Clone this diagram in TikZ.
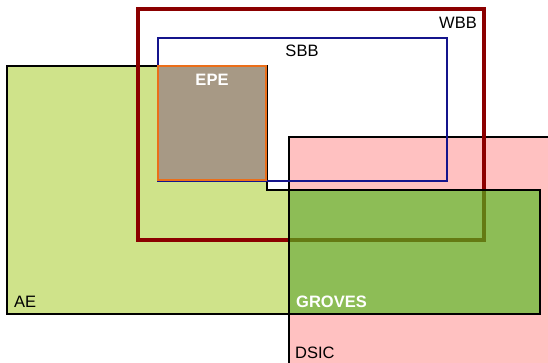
\documentclass[tikz,border=0pt]{standalone}
\usepackage{fontspec}
\setmainfont{Liberation Sans}
\definecolor{aegreen}{RGB}{207,227,138}
\definecolor{dsicpink}{RGB}{255,193,193}
\definecolor{grovesgreen}{RGB}{80,188,30}
\definecolor{wbbred}{RGB}{139,0,0}
\definecolor{sbbblue}{RGB}{20,20,140}
\definecolor{epebrown}{RGB}{167,153,133}
\definecolor{epeorange}{RGB}{235,110,25}

\begin{document}
\begin{tikzpicture}[x=1pt,y=-1pt,font=\fontsize{16.5}{19}\selectfont]
        \useasboundingbox (0,0) rectangle (548,362);
        \clip (0,0) rectangle (548,362);
        \draw[fill=aegreen,line width=2pt] (7,66) -- (267,66) -- (267,190) -- (540,190) -- (540,314) -- (7,314) -- cycle;
        \draw[fill=dsicpink,line width=1.5pt] (289,137) rectangle (560,375);
        \draw[wbbred,line width=4pt] (137.5,8.5) rectangle (483.5,240);
        \draw[sbbblue,line width=1.3pt] (158,38) rectangle (447,181);
        \draw[fill=epebrown,draw=epeorange,line width=2pt] (158,66) rectangle (266,180);
        \fill[grovesgreen,fill opacity=0.65] (289,190) rectangle (540,314);
        \draw[line width=2pt] (289,190) rectangle (540,314);
        \node[anchor=base east,inner sep=0] (wbb) at (477,28) {WBB};
        \node[inner sep=0] (sbb) at (302,51) {SBB};
        \node[inner sep=0,text=white,font=\fontsize{16.5}{19}\selectfont\bfseries] (epe) at (212,80) {EPE};
        \node[anchor=base west,inner sep=0] (ae) at (14,307) {AE};
        \node[anchor=base west,inner sep=0,text=white,font=\fontsize{16.5}{19}\selectfont\bfseries] (groves) at (296,307) {GROVES};
        \node[anchor=base west,inner sep=0] (dsic) at (295,358) {DSIC};
      \end{tikzpicture}
\end{document}
